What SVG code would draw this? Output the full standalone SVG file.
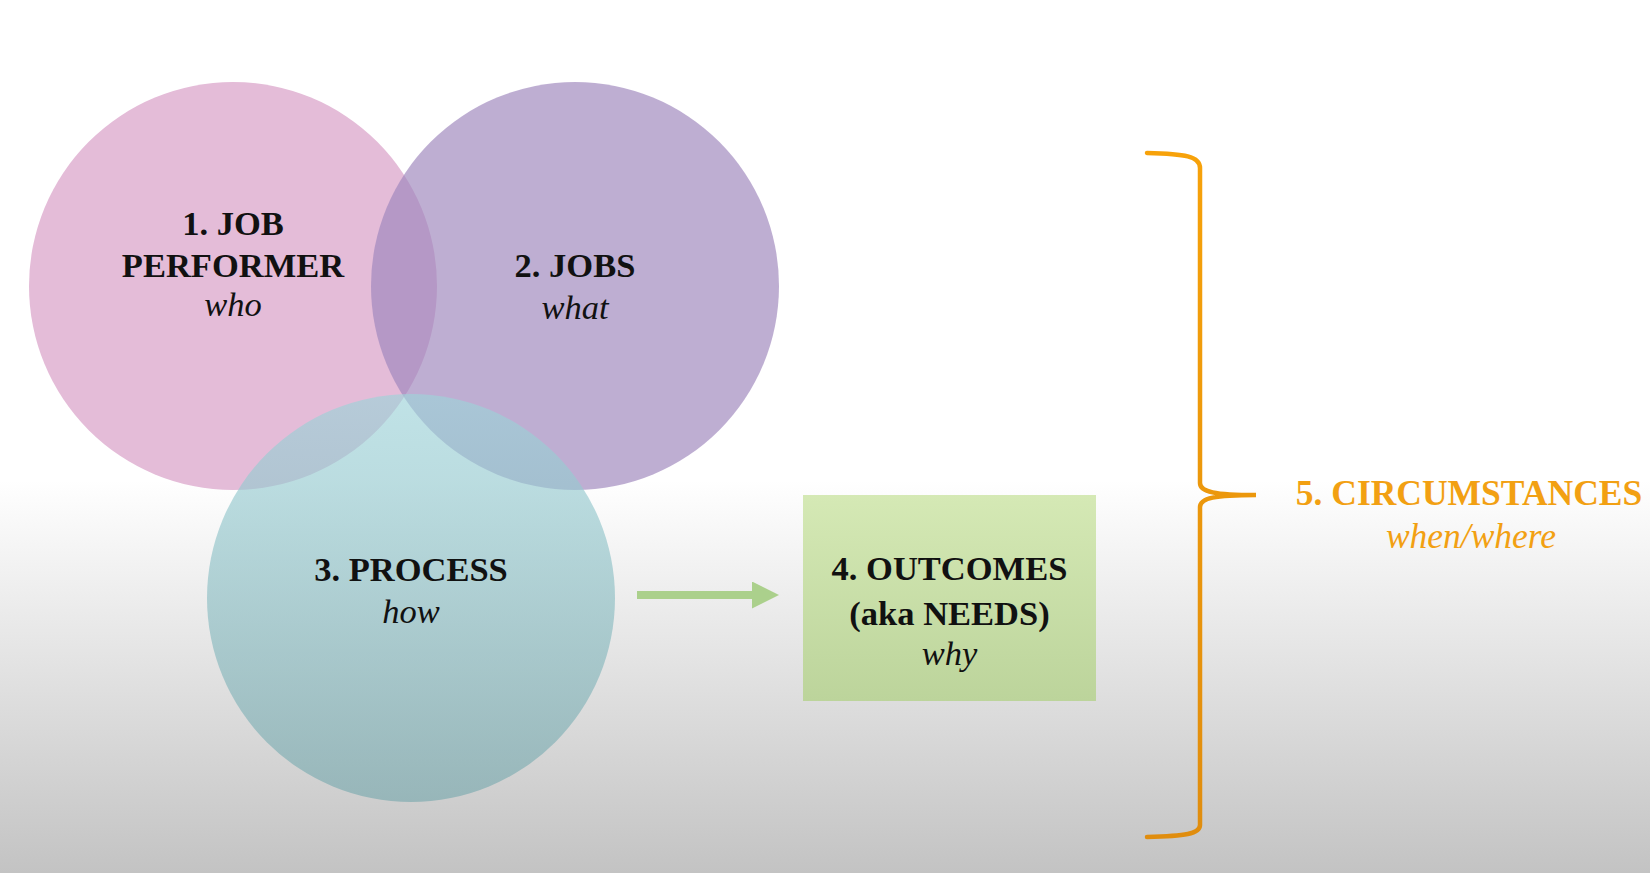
<svg xmlns="http://www.w3.org/2000/svg" width="1650" height="873" viewBox="0 0 1650 873">
  <defs>
    <linearGradient id="bg" x1="0" y1="0" x2="0" y2="873" gradientUnits="userSpaceOnUse">
      <stop offset="0" stop-color="#ffffff"/>
      <stop offset="0.55" stop-color="#ffffff"/>
      <stop offset="1" stop-color="#c3c3c3"/>
    </linearGradient>
    <linearGradient id="teal" x1="0" y1="394" x2="0" y2="802" gradientUnits="userSpaceOnUse">
      <stop offset="0" stop-color="#9ed3d9"/>
      <stop offset="1" stop-color="#7aa9ae"/>
    </linearGradient>
    <linearGradient id="green" x1="0" y1="495" x2="0" y2="701" gradientUnits="userSpaceOnUse">
      <stop offset="0" stop-color="#d5e9b5"/>
      <stop offset="1" stop-color="#bcd49b"/>
    </linearGradient>
    <linearGradient id="orange" x1="0" y1="150" x2="0" y2="840" gradientUnits="userSpaceOnUse">
      <stop offset="0" stop-color="#f7a20a"/>
      <stop offset="1" stop-color="#e08d0e"/>
    </linearGradient>
    <marker id="arrowhead" viewBox="0 0 27 27" refX="0" refY="13.5" markerWidth="27" markerHeight="27" markerUnits="userSpaceOnUse" orient="auto">
      <path d="M0,0 L27,13.5 L0,27 Z" fill="#abd08c"/>
    </marker>
    <style>
      .t { font-family: "Liberation Serif", "Times New Roman", serif; font-size: 34.5px; text-anchor: middle; fill: #111111; }
      .b { font-weight: bold; }
      .i { font-style: italic; }
      .o { fill: #f2a012; font-size: 35.5px; }
    </style>
  </defs>

  <rect x="0" y="0" width="1650" height="873" fill="url(#bg)"/>

  <g id="node-job-performer">
    <circle cx="233" cy="286" r="204" fill="#e4bcd8"/>
    <text class="t b" x="233" y="235">1. JOB</text>
    <text class="t b" x="233" y="277">PERFORMER</text>
    <text class="t i" x="233" y="316">who</text>
  </g>

  <g id="node-jobs">
    <circle cx="575" cy="286" r="204" fill="#9f88bd" fill-opacity="0.68"/>
    <text class="t b" x="575" y="277">2. JOBS</text>
    <text class="t i" x="575" y="319">what</text>
  </g>

  <g id="node-process">
    <circle cx="411" cy="598" r="204" fill="url(#teal)" fill-opacity="0.65"/>
    <text class="t b" x="411" y="581">3. PROCESS</text>
    <text class="t i" x="411" y="623">how</text>
  </g>

  <g id="node-outcomes">
    <rect x="803" y="495" width="293" height="206" fill="url(#green)"/>
    <text class="t b" x="949.5" y="580">4. OUTCOMES</text>
    <text class="t b" x="949.5" y="625">(aka NEEDS)</text>
    <text class="t i" x="949.5" y="665">why</text>
  </g>

  <g id="node-circumstances">
    <text class="t b o" x="1469" y="505">5. CIRCUMSTANCES</text>
    <text class="t i o" x="1471" y="548">when/where</text>
  </g>

  <g id="connectors">
    <line x1="637" y1="595" x2="752" y2="595" stroke="#abd08c" stroke-width="8" marker-end="url(#arrowhead)"/>
    <path d="M1147,153 C1185,154 1200,156 1200,168 L1200,483 C1200,492 1215,495 1256,495 C1215,495 1200,498 1200,507 L1200,825 C1200,834 1185,836 1147,837" fill="none" stroke="url(#orange)" stroke-width="4.5" stroke-linecap="round"/>
  </g>
</svg>
